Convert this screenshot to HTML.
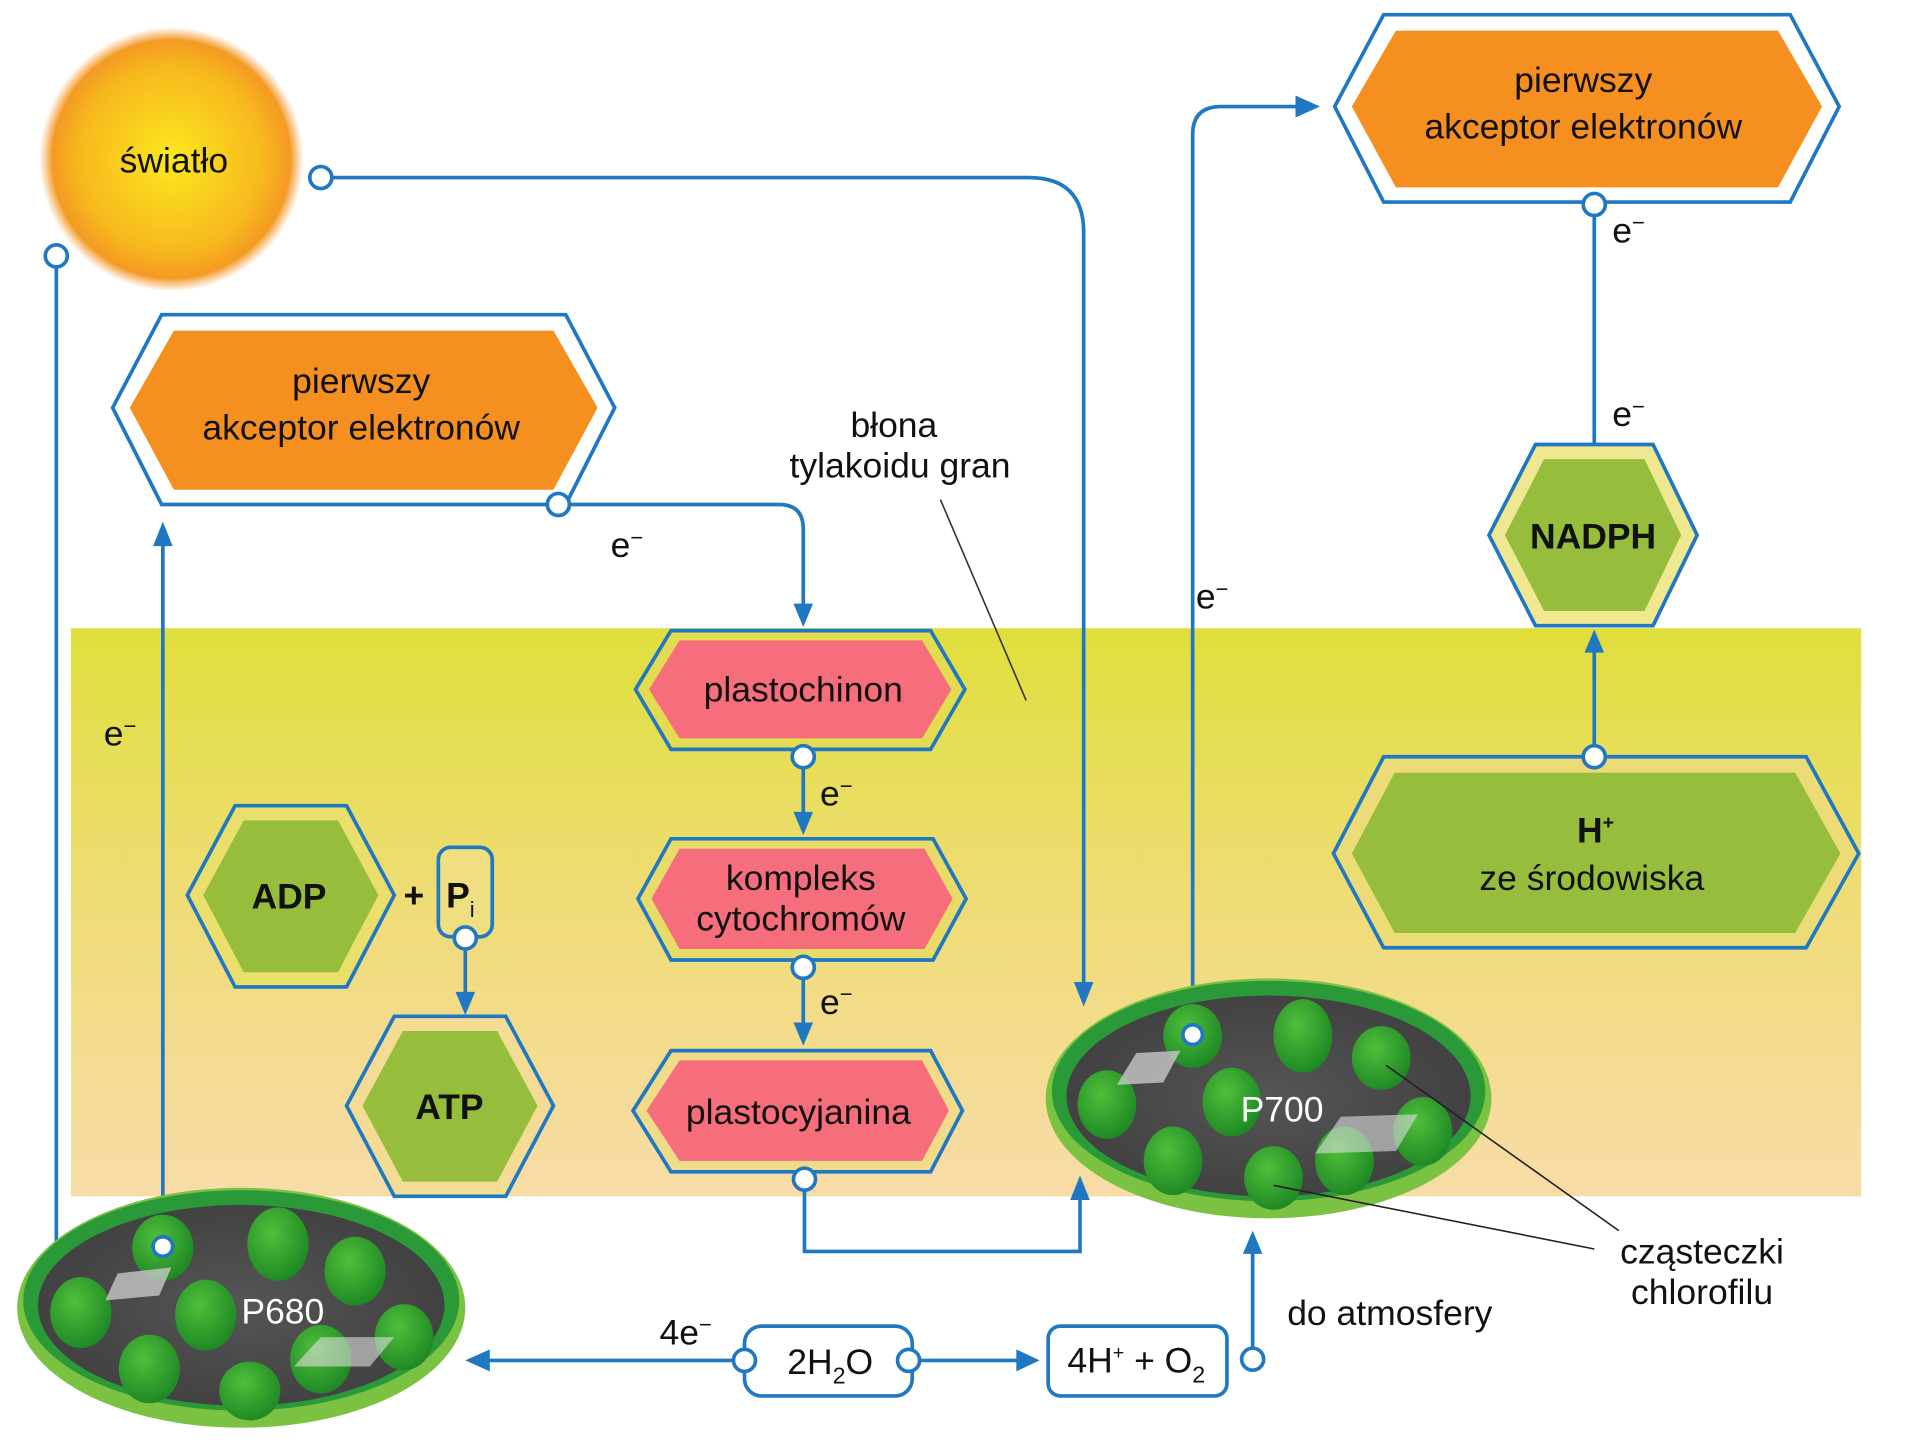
<!DOCTYPE html>
<html><head><meta charset="utf-8"><style>
html,body{margin:0;padding:0;background:#fff;}
svg{display:block;}
text{font-family:"Liberation Sans",sans-serif;fill:#111;}
</style></head><body>
<svg width="1920" height="1440" viewBox="0 0 1568 1176" preserveAspectRatio="none" xmlns="http://www.w3.org/2000/svg">
<defs>
<linearGradient id="band" x1="0" y1="0" x2="0" y2="1">
<stop offset="0" stop-color="#e0df3c"/><stop offset="0.5" stop-color="#efdc78"/><stop offset="1" stop-color="#f8dca8"/>
</linearGradient>
<radialGradient id="sun" cx="0.5" cy="0.5" r="0.5">
<stop offset="0" stop-color="#fbe81f"/><stop offset="0.7" stop-color="#f7b81e"/><stop offset="0.9" stop-color="#f39a22"/><stop offset="1" stop-color="#f6a040" stop-opacity="0"/>
</radialGradient>
<radialGradient id="ball" cx="0.4" cy="0.35" r="0.65">
<stop offset="0" stop-color="#4fbf3a"/><stop offset="1" stop-color="#1f8a25"/>
</radialGradient>
<radialGradient id="ellin" cx="0.5" cy="0.5" r="0.6">
<stop offset="0" stop-color="#555"/><stop offset="1" stop-color="#3e3e3e"/>
</radialGradient>
</defs>
<style>
.ln{fill:none;stroke:#1f78c1;stroke-width:3;}
.ci{fill:#fff;stroke:#1f78c1;stroke-width:3;}
.ah{fill:#1f78c1;}
.t{font-size:29px;text-anchor:middle;}
.b{font-weight:bold;}
</style>

<rect x="58" y="513" width="1462" height="464" fill="url(#band)"/>

<circle cx="140" cy="130" r="108" fill="url(#sun)"/>
<text class="t" x="142" y="141">światło</text>

<path class="ln" d="M46 218 V1030"/>
<polygon class="ah" points="38,1026 54,1026 46,1046"/>
<circle class="ci" cx="46" cy="209" r="9"/>

<path class="ln" d="M271 145 H840 Q885 145 885 190 V805"/>
<polygon class="ah" points="877,802 893,802 885,822"/>
<circle class="ci" cx="262" cy="145" r="9"/>

<path class="ln" d="M133 1018 V440"/>
<polygon class="ah" points="125,446 141,446 133,426"/>
<text class="t" x="98" y="609">e<tspan dy="-10" font-size="18">−</tspan></text>

<path class="ln" d="M465 412 H636 Q656 412 656 432 V495"/>
<polygon class="ah" points="648,493 664,493 656,512"/>
<text class="t" x="512" y="455">e<tspan dy="-10" font-size="18">−</tspan></text>

<path class="ln" d="M656 627 V665"/>
<polygon class="ah" points="648,663 664,663 656,682"/>
<text class="t" x="683" y="658">e<tspan dy="-10" font-size="18">−</tspan></text>
<path class="ln" d="M656 799 V837"/>
<polygon class="ah" points="648,835 664,835 656,854"/>
<text class="t" x="683" y="828">e<tspan dy="-10" font-size="18">−</tspan></text>

<path class="ln" d="M657 972 V1022 H882 V978"/>
<polygon class="ah" points="874,980 890,980 882,960"/>

<path class="ln" d="M974 836 V110 Q974 87 997 87 H1060"/>
<polygon class="ah" points="1058,78 1058,96 1078,87"/>
<text class="t" x="990" y="497">e<tspan dy="-10" font-size="18">−</tspan></text>

<path class="ln" d="M1302 176 V363"/>
<text class="t" x="1330" y="198">e<tspan dy="-10" font-size="18">−</tspan></text>
<text class="t" x="1330" y="348">e<tspan dy="-10" font-size="18">−</tspan></text>
<path class="ln" d="M1302 609 V530"/>
<polygon class="ah" points="1294,533 1310,533 1302,514"/>

<path class="ln" d="M380 775 V812"/>
<polygon class="ah" points="372,810 388,810 380,829"/>

<path class="ln" d="M599 1111 H398"/>
<polygon class="ah" points="400,1102 400,1120 380,1111"/>
<text class="t" x="560" y="1098">4e<tspan dy="-10" font-size="18">−</tspan></text>
<path class="ln" d="M751 1111 H832"/>
<polygon class="ah" points="830,1102 830,1120 849,1111"/>
<path class="ln" d="M1023 1101 V1022"/>
<polygon class="ah" points="1015,1024 1031,1024 1023,1005"/>
<rect x="608" y="1083" width="137" height="57" rx="14" fill="#fff" stroke="#1f78c1" stroke-width="3"/>
<text class="t" x="678" y="1122">2H<tspan dy="8" font-size="19">2</tspan><tspan dy="-8">O</tspan></text>
<circle class="ci" cx="608" cy="1111" r="9"/>
<circle class="ci" cx="742" cy="1111" r="9"/>
<rect x="856" y="1083" width="146" height="57" rx="10" fill="#fff" stroke="#1f78c1" stroke-width="3"/>
<text class="t" x="928" y="1121">4H<tspan dy="-11" font-size="16">+</tspan><tspan dy="11"> + O</tspan><tspan dy="8" font-size="19">2</tspan></text>
<circle class="ci" cx="1023" cy="1110" r="9"/>
<text class="t" x="1135" y="1082">do atmosfery</text>

<polygon points="92,333 132,257 462,257 502,333 462,412 132,412" fill="#fff" stroke="#1f78c1" stroke-width="3"/>
<polygon points="106,333 142,270 452,270 488,333 452,400 142,400" fill="#f48f20"/>
<text class="t" x="295" y="321">pierwszy</text>
<text class="t" x="295" y="359">akceptor elektronów</text>
<circle class="ci" cx="456" cy="412" r="9"/>

<polygon points="1090,87 1130,12 1462,12 1502,87 1462,165 1130,165" fill="#fff" stroke="#1f78c1" stroke-width="3"/>
<polygon points="1104,87 1140,25 1452,25 1488,87 1452,153 1140,153" fill="#f48f20"/>
<text class="t" x="1293" y="75">pierwszy</text>
<text class="t" x="1293" y="113">akceptor elektronów</text>
<circle class="ci" cx="1302" cy="167" r="9"/>

<polygon points="519,563 548,515 760,515 788,563 760,612 548,612" fill="#e4dc50" stroke="#1f78c1" stroke-width="3"/>
<polygon points="530,563 555,523 753,523 777,563 753,603 555,603" fill="#f66d7b"/>
<text class="t" x="656" y="573">plastochinon</text>
<circle class="ci" cx="656" cy="618" r="9"/>

<polygon points="521,734 548,685 762,685 789,734 762,784 548,784" fill="#e8dc68" stroke="#1f78c1" stroke-width="3"/>
<polygon points="532,734 555,693 755,693 778,734 755,775 555,775" fill="#f66d7b"/>
<text class="t" x="654" y="727">kompleks</text>
<text class="t" x="654" y="760">cytochromów</text>
<circle class="ci" cx="656" cy="790" r="9"/>

<polygon points="517,907 548,858 760,858 786,907 760,957 548,957" fill="#f0dc88" stroke="#1f78c1" stroke-width="3"/>
<polygon points="528,907 555,866 753,866 775,907 753,948 555,948" fill="#f66d7b"/>
<text class="t" x="652" y="918">plastocyjanina</text>
<circle class="ci" cx="657" cy="963" r="9"/>

<polygon points="153,731 192,658 283,658 322,731 283,806 192,806" fill="#eadf6a" stroke="#1f78c1" stroke-width="3"/>
<polygon points="166,731 199,670 276,670 309,731 276,794 199,794" fill="#97bd3c"/>
<text class="t b" x="236" y="742">ADP</text>
<text class="t b" x="338" y="741">+</text>
<rect x="358" y="692" width="44" height="73" rx="10" fill="#f0df80" stroke="#1f78c1" stroke-width="3"/>
<text class="t b" x="376" y="741">P<tspan dy="8" font-size="18" font-weight="normal">i</tspan></text>
<circle class="ci" cx="380" cy="766" r="9"/>

<polygon points="283,903 322,830 413,830 452,903 413,977 322,977" fill="#f4dc94" stroke="#1f78c1" stroke-width="3"/>
<polygon points="296,903 329,842 406,842 439,903 406,965 329,965" fill="#97bd3c"/>
<text class="t b" x="367" y="914">ATP</text>

<polygon points="1216,437 1254,363 1350,363 1386,437 1350,511 1254,511" fill="#f0e890" stroke="#1f78c1" stroke-width="3"/>
<polygon points="1229,437 1261,375 1343,375 1373,437 1343,499 1261,499" fill="#97bd3c"/>
<text class="t b" x="1301" y="448">NADPH</text>

<polygon points="1089,697 1130,618 1475,618 1518,697 1475,774 1130,774" fill="#ecdc78" stroke="#1f78c1" stroke-width="3"/>
<polygon points="1104,697 1139,631 1466,631 1503,697 1466,762 1139,762" fill="#97bd3c"/>
<text class="t b" x="1303" y="688">H<tspan dy="-11" font-size="16">+</tspan></text>
<text class="t" x="1300" y="727">ze środowiska</text>
<circle class="ci" cx="1302" cy="618" r="9"/>

<ellipse cx="197" cy="1068" rx="183" ry="98" fill="#7cc242"/>
<ellipse cx="197" cy="1062" rx="178" ry="90" fill="#2a9a38"/>
<ellipse cx="197" cy="1066" rx="166" ry="82" fill="url(#ellin)"/>
<g fill="url(#ball)">
<ellipse cx="133" cy="1019" rx="25" ry="27"/><ellipse cx="227" cy="1016" rx="25" ry="30"/>
<ellipse cx="290" cy="1038" rx="25" ry="28"/><ellipse cx="66" cy="1072" rx="25" ry="29"/>
<ellipse cx="168" cy="1074" rx="25" ry="29"/><ellipse cx="122" cy="1118" rx="25" ry="28"/>
<ellipse cx="262" cy="1110" rx="25" ry="28"/><ellipse cx="330" cy="1092" rx="24" ry="27"/>
<ellipse cx="204" cy="1136" rx="25" ry="24"/>
</g>
<polygon points="96,1040 140,1035 130,1058 86,1062" fill="#c8c8c8" opacity="0.8"/>
<polygon points="262,1092 322,1092 302,1116 240,1116" fill="#ddd" opacity="0.6"/>
<text x="231" y="1081" font-size="29" text-anchor="middle" style="fill:#fff">P680</text>
<circle class="ci" cx="133" cy="1018" r="8"/>

<ellipse cx="1036" cy="897" rx="182" ry="98" fill="#7cc242"/>
<ellipse cx="1036" cy="891" rx="177" ry="90" fill="#2a9a38"/>
<ellipse cx="1036" cy="895" rx="165" ry="82" fill="url(#ellin)"/>
<g fill="url(#ball)">
<ellipse cx="974" cy="846" rx="24" ry="26"/><ellipse cx="1064" cy="846" rx="24" ry="30"/>
<ellipse cx="1128" cy="864" rx="24" ry="26"/><ellipse cx="904" cy="902" rx="24" ry="28"/>
<ellipse cx="1006" cy="900" rx="24" ry="28"/><ellipse cx="958" cy="948" rx="24" ry="28"/>
<ellipse cx="1040" cy="962" rx="24" ry="26"/><ellipse cx="1098" cy="948" rx="24" ry="28"/>
<ellipse cx="1162" cy="924" rx="24" ry="28"/>
</g>
<polygon points="928,860 964,858 950,884 912,886" fill="#c8c8c8" opacity="0.8"/>
<polygon points="1095,912 1158,910 1140,940 1074,942" fill="#ddd" opacity="0.6"/>
<text x="1047" y="916" font-size="29" text-anchor="middle" style="fill:#fff">P700</text>
<circle class="ci" cx="974" cy="845" r="8"/>

<text class="t" x="730" y="357">błona</text>
<text class="t" x="735" y="390">tylakoidu gran</text>
<line x1="768" y1="408" x2="838" y2="572" stroke="#333" stroke-width="1.3"/>
<line x1="1302" y1="1020" x2="1040" y2="968" stroke="#222" stroke-width="1.3"/>
<line x1="1322" y1="1005" x2="1132" y2="870" stroke="#222" stroke-width="1.3"/>
<text class="t" x="1390" y="1032">cząsteczki</text>
<text class="t" x="1390" y="1065">chlorofilu</text>
</svg>
</body></html>
